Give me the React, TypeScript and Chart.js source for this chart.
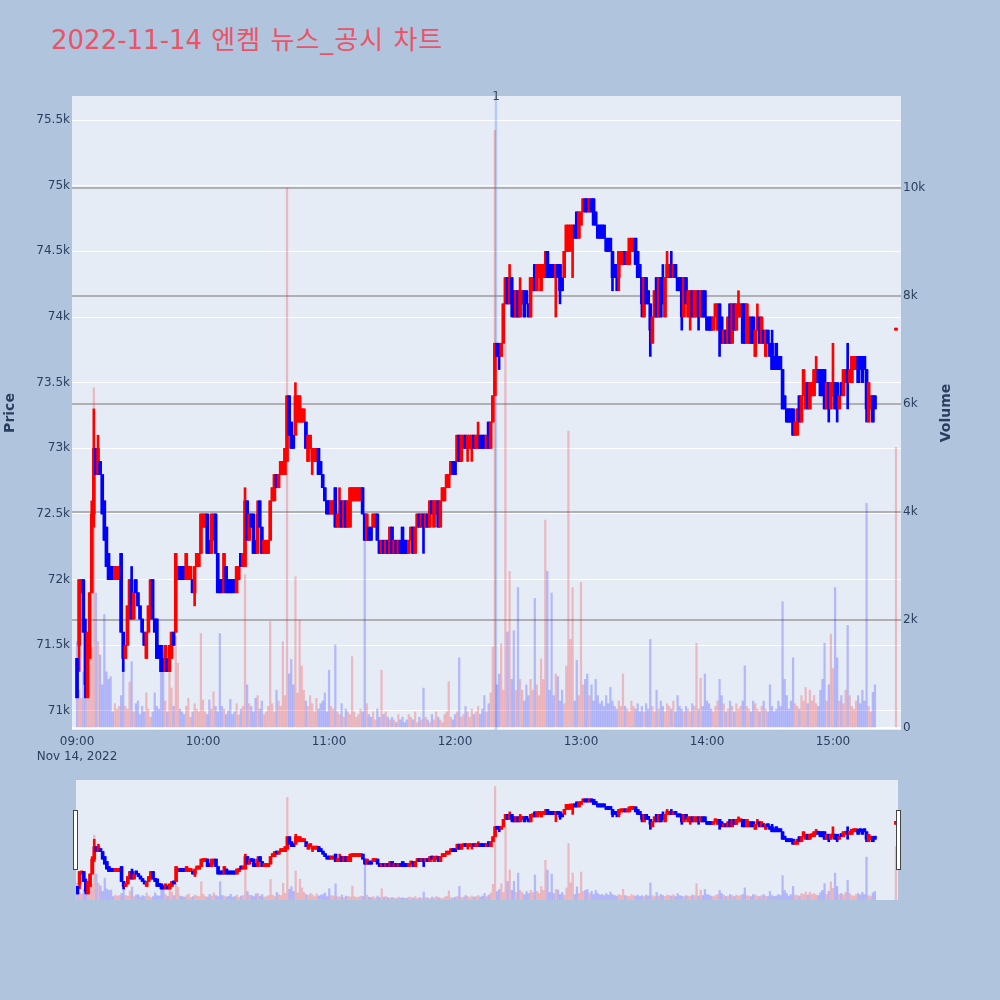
import { useEffect, useRef } from 'react';
import { Chart, registerables } from 'chart.js';

Chart.register(...registerables);

// 엔켐 1-minute candles on 2022-11-14, one entry per minute from 09:00.
// Prices are in units of 100 won.
const PRICE_UNIT = 100;

const opensH = [
  714, 715, 719, 720, 716, 711, 714, 719, 725, 730,
  728, 729, 728, 726, 724, 722, 721, 721, 720, 720,
  720, 722, 716, 714, 715, 717, 720, 717, 720, 719,
  718, 717, 716, 714, 716, 717, 720, 717, 717, 715,
  715, 714, 713, 714, 713, 714, 716, 716, 720, 721,
  721, 721, 720, 720, 720, 720, 719, 721, 721, 722,
  724, 724, 725, 723, 722, 723, 725, 722, 720, 720,
  719, 721, 720, 720, 720, 720, 719, 720, 722, 721,
  721, 726, 723, 725, 725, 723, 722, 726, 724, 722,
  722, 722, 723, 726, 726, 728, 727, 728, 728, 728,
  729, 734, 732, 731, 731, 732, 732, 732, 732, 732,
  729, 730, 729, 729, 729, 730, 729, 728, 727, 726,
  726, 725, 725, 727, 724, 724, 726, 724, 726, 724,
  724, 726, 726, 726, 726, 726, 727, 725, 723, 724,
  724, 724, 724, 725, 723, 722, 723, 722, 723, 722,
  724, 722, 723, 722, 723, 724, 723, 723, 722, 723,
  724, 722, 724, 725, 724, 725, 724, 725, 724, 726,
  724, 725, 726, 724, 726, 726, 727, 727, 728, 729,
  729, 729, 731, 729, 730, 731, 730, 730, 730, 731,
  730, 730, 731, 731, 731, 730, 732, 730, 732, 734,
  738, 738, 737, 738, 741, 743, 741, 743, 742, 740,
  742, 740, 741, 742, 742, 741, 740, 742, 744, 742,
  743, 742, 743, 743, 745, 744, 744, 744, 743, 744,
  744, 743, 743, 745, 745, 746, 746, 747, 748, 746,
  747, 748, 749, 749, 748, 749, 749, 748, 747, 747,
  747, 747, 746, 746, 746, 745, 744, 744, 743, 744,
  744, 745, 744, 744, 745, 745, 746, 745, 744, 743,
  740, 743, 742, 741, 738, 740, 743, 740, 743, 743,
  740, 743, 743, 744, 743, 744, 743, 743, 743, 740,
  743, 740, 740, 742, 740, 740, 742, 740, 742, 742,
  740, 740, 740, 739, 740, 739, 741, 740, 738, 739,
  738, 741, 738, 741, 739, 740, 740, 741, 741, 738,
  738, 740, 740, 737, 739, 740, 738, 739, 737, 739,
  738, 738, 737, 738, 737, 737, 736, 734, 733, 733,
  733, 733, 731, 731, 734, 732, 734, 733, 735, 733,
  734, 734, 735, 736, 736, 736, 736, 733, 735, 733,
  734, 735, 735, 733, 735, 734, 735, 736, 735, 735,
  736, 736, 737, 737, 737, 737, 736, 732, 733, 734,
  734,
];

const closesH = [
  711, 720, 720, 716, 712, 716, 719, 725, 730, 728,
  730, 728, 725, 723, 721, 720, 720, 720, 721, 721,
  721, 716, 714, 715, 718, 720, 717, 719, 719, 718,
  717, 716, 715, 716, 718, 720, 717, 716, 714, 714,
  713, 713, 715, 713, 715, 716, 715, 722, 721, 720,
  720, 720, 722, 721, 721, 719, 721, 722, 722, 725,
  725, 725, 722, 722, 725, 725, 722, 719, 719, 719,
  722, 719, 719, 719, 719, 719, 721, 721, 721, 722,
  726, 723, 725, 724, 722, 722, 725, 724, 722, 723,
  723, 723, 726, 727, 728, 727, 728, 729, 729, 730,
  734, 731, 730, 730, 734, 734, 734, 733, 733, 730,
  731, 731, 730, 730, 730, 728, 728, 727, 726, 725,
  725, 726, 726, 724, 725, 725, 724, 726, 724, 726,
  727, 727, 727, 727, 727, 727, 725, 723, 725, 723,
  723, 725, 725, 723, 722, 723, 722, 723, 722, 724,
  722, 723, 722, 723, 722, 722, 722, 722, 723, 724,
  722, 724, 725, 724, 725, 724, 725, 724, 726, 725,
  726, 726, 724, 726, 727, 727, 728, 728, 729, 728,
  728, 731, 729, 731, 731, 730, 731, 731, 731, 730,
  731, 731, 730, 730, 730, 731, 730, 732, 734, 738,
  737, 737, 738, 741, 743, 741, 743, 741, 740, 742,
  740, 742, 742, 740, 741, 740, 743, 743, 742, 744,
  744, 744, 744, 744, 743, 743, 743, 743, 744, 743,
  742, 742, 745, 747, 747, 747, 747, 746, 746, 748,
  748, 749, 748, 748, 749, 748, 747, 747, 746, 746,
  746, 746, 745, 745, 745, 743, 743, 743, 745, 745,
  745, 744, 745, 746, 746, 746, 744, 743, 743, 741,
  743, 741, 741, 739, 740, 742, 740, 743, 740, 741,
  743, 744, 744, 743, 744, 743, 742, 742, 740, 743,
  741, 742, 742, 740, 742, 742, 740, 742, 740, 740,
  739, 739, 739, 740, 741, 741, 739, 738, 739, 738,
  740, 738, 741, 739, 741, 741, 741, 738, 738, 741,
  740, 738, 738, 739, 740, 738, 740, 738, 739, 738,
  737, 736, 736, 736, 736, 736, 733, 733, 732, 732,
  732, 731, 732, 733, 732, 734, 736, 735, 733, 735,
  735, 736, 736, 735, 734, 734, 733, 735, 733, 735,
  735, 733, 733, 734, 734, 736, 736, 735, 736, 737,
  737, 737, 735, 736, 735, 736, 733, 735, 734, 732,
  733,
];

// wick ends that reach past the candle body: [minute, price / 100]
const highWicks = [
  [4, 717], [7, 726], [8, 733], [10, 731], [26, 721], [80, 727], [86, 726],
  [104, 735], [125, 727], [191, 732], [206, 744], [211, 743], [223, 745],
  [279, 744], [281, 745], [283, 745], [315, 742], [324, 741], [331, 739],
  [352, 737], [360, 738], [367, 738],
];
const lowWicks = [
  [1, 713], [4, 711], [8, 724], [22, 713], [56, 718], [112, 728], [165, 722],
  [186, 729], [188, 729], [201, 736], [207, 740], [228, 740], [230, 741],
  [235, 745], [236, 743], [255, 742], [257, 742], [258, 742], [269, 740],
  [273, 737], [288, 739], [292, 739], [296, 739], [306, 737], [358, 732],
  [362, 732], [367, 733], [376, 732],
];

const volumes = [
  1600, 700, 550, 1040, 750, 600, 2000, 1500, 6300, 2500,
  1600, 1350, 800, 2100, 1040, 900, 950, 300, 450, 350,
  400, 600, 1540, 400, 350, 850, 1230, 300, 450, 500,
  250, 400, 300, 650, 350, 200, 300, 650, 400, 350,
  1500, 1400, 500, 300, 1230, 740, 400, 1700, 1200, 350,
  300, 250, 400, 550, 200, 300, 450, 350, 300, 1750,
  520, 300, 250, 520, 350, 670, 400, 300, 1750, 400,
  350, 250, 320, 530, 250, 300, 450, 240, 350, 400,
  2840, 800, 450, 400, 300, 550, 600, 350, 500, 250,
  300, 400, 1970, 450, 300, 700, 500, 400, 1600, 600,
  10000, 1000, 1270, 800, 2800, 650, 2000, 1150, 700, 500,
  400, 600, 450, 300, 550, 350, 450, 500, 650, 300,
  1070, 400, 350, 1540, 300, 250, 450, 200, 350, 300,
  250, 1320, 300, 200, 250, 350, 300, 3500, 450, 250,
  200, 300, 150, 350, 200, 1070, 250, 300, 200, 150,
  200, 150, 100, 250, 150, 200, 100, 150, 250, 200,
  150, 300, 100, 200, 150, 740, 200, 150, 100, 250,
  150, 300, 200, 150, 100, 250, 300, 860, 200, 150,
  250, 300, 1300, 200, 250, 400, 300, 200, 350, 250,
  300, 400, 250, 350, 600, 300, 450, 650, 1500, 11070,
  800, 1000, 1560, 700, 7100, 1780, 2900, 900, 1800, 700,
  2600, 900, 700, 500, 800, 600, 900, 700, 2400, 800,
  600, 1280, 900, 3850, 2900, 700, 2500, 600, 1000, 950,
  500, 700, 450, 1150, 5500, 1640, 2600, 500, 1250, 600,
  2700, 800, 900, 1000, 600, 800, 500, 900, 600, 450,
  500, 400, 600, 450, 750, 500, 400, 350, 500, 400,
  1000, 400, 350, 300, 500, 400, 350, 450, 300, 400,
  300, 450, 350, 1640, 400, 300, 700, 350, 500, 400,
  300, 450, 400, 350, 500, 300, 600, 400, 350, 300,
  400, 350, 300, 450, 400, 1570, 350, 920, 400, 1000,
  500, 450, 350, 300, 400, 500, 900, 600, 450, 300,
  350, 500, 400, 300, 450, 350, 400, 500, 1150, 400,
  350, 300, 500, 450, 350, 300, 400, 500, 350, 300,
  800, 400, 300, 350, 500, 400, 2340, 900, 600, 350,
  500, 1300, 450, 400, 350, 600, 500, 750, 450, 700,
  500, 600, 450, 400, 700, 900, 1570, 500, 800, 1740,
  1100, 2600, 1300, 500, 600, 450, 700, 1900, 600, 400,
  350, 500, 600, 450, 700, 500, 4160, 400, 300, 660,
  800,
];

// closing single-price auction at 15:30
const auctionMinute = 390;
const auctionPriceH = 739;
const auctionVolume = 5200;

const hourTicks = [0, 60, 120, 180, 240, 300, 360];
const hourLabels = ['09:00', '10:00', '11:00', '12:00', '13:00', '14:00', '15:00'];
const dateLabel = 'Nov 14, 2022';
const priceTicks = [71000, 71500, 72000, 72500, 73000, 73500, 74000, 74500, 75000, 75500];
const volumeTicks = [0, 2000, 4000, 6000, 8000, 10000];
const newsMinutes = [199.5];
const newsLabels = ['1'];

const TITLE_DATE = '2022-11-14';
const TITLE_REST = ' 엔켐 뉴스_공시 차트';
const FONT = '"DejaVu Sans", "Noto Sans CJK KR", sans-serif';
const INK = '#2a3f5f';
const RISE = '#ff0000';
const FALL = '#0000ff';
const RISE_VOL = 'rgba(255,0,0,0.22)';
const FALL_VOL = 'rgba(0,0,255,0.22)';

const xs = [...opensH.map((_, i) => i), auctionMinute];
const opens = [...opensH, auctionPriceH].map(p => p * PRICE_UNIT);
const closes = [...closesH, auctionPriceH].map(p => p * PRICE_UNIT);
const highs = opens.map((o, i) => Math.max(o, closes[i]));
const lows = opens.map((o, i) => Math.min(o, closes[i]));
highWicks.forEach(([m, p]) => { highs[m] = p * PRICE_UNIT; });
lowWicks.forEach(([m, p]) => { lows[m] = p * PRICE_UNIT; });
const vols = [...volumes, auctionVolume];
const rising = opens.map((o, i) => closes[i] >= o);

const PRICE_RANGE = { min: 70855, max: 75683 };
const VOL_RANGE = { min: -37, max: 11704 };

function candleSets(body: number, wick: number, vol: number, minBody: number): any[] {
  return [
    {
      label: 'Volume', yAxisID: 'y1', order: 3, grouped: false, barThickness: vol,
      data: xs.map((x, i) => ({ x, y: vols[i] })),
      backgroundColor: rising.map(r => (r ? RISE_VOL : FALL_VOL)),
    },
    {
      label: 'wick', yAxisID: 'y', order: 2, grouped: false, barThickness: wick, minBarLength: minBody,
      data: xs.map((x, i) => ({ x, y: [lows[i], highs[i]] })),
      backgroundColor: rising.map(r => (r ? RISE : FALL)),
    },
    {
      label: 'body', yAxisID: 'y', order: 1, grouped: false, barThickness: body, minBarLength: minBody,
      data: xs.map((x, i) => ({ x, y: [opens[i], closes[i]] })),
      backgroundColor: rising.map(r => (r ? RISE : FALL)),
    },
  ];
}

const plotBg = {
  id: 'plotBg',
  beforeDraw(chart: any) {
    const { ctx, chartArea: a } = chart;
    ctx.save();
    ctx.fillStyle = '#e5ecf6';
    ctx.fillRect(a.left, a.top, a.right - a.left, a.bottom - a.top);
    ctx.restore();
  },
};

const newsMarks = {
  id: 'newsMarks',
  beforeDatasetsDraw(chart: any) {
    const { ctx, chartArea: a, scales } = chart;
    ctx.save();
    newsMinutes.forEach((m, i) => {
      const px = scales.x.getPixelForValue(m);
      ctx.strokeStyle = 'rgba(90,140,230,0.35)';
      ctx.lineWidth = 2.5;
      ctx.beginPath(); ctx.moveTo(px, a.top); ctx.lineTo(px, a.bottom); ctx.stroke();
      ctx.fillStyle = '#3d4a5c';
      ctx.font = `12px ${FONT}`;
      ctx.textAlign = 'center'; ctx.textBaseline = 'middle';
      ctx.fillText(newsLabels[i], px, a.top + 1);
    });
    ctx.restore();
  },
};

const volumeTitle = {
  id: 'volumeTitle',
  afterDraw(chart: any) {
    const { ctx, chartArea: a } = chart;
    ctx.save();
    ctx.translate(946, (a.top + a.bottom) / 2);
    ctx.rotate(-Math.PI / 2);
    ctx.fillStyle = INK;
    ctx.font = `bold 14px ${FONT}`;
    ctx.textAlign = 'center'; ctx.textBaseline = 'middle';
    ctx.fillText('Volume', 0, 0);
    ctx.restore();
  },
};

export default function App() {
  const mainRef = useRef<HTMLCanvasElement>(null);
  const navRef = useRef<HTMLCanvasElement>(null);

  useEffect(() => {
    if (!mainRef.current || !navRef.current) return;
    Chart.defaults.font.family = FONT;
    const tickFont = { size: 12, family: FONT };

    const main = new Chart(mainRef.current, {
      type: 'bar',
      data: { datasets: candleSets(3, 2, 1.6, 2) },
      plugins: [plotBg, newsMarks, volumeTitle],
      options: {
        animation: false, responsive: true, maintainAspectRatio: false,
        layout: { padding: { top: 96, right: 0, left: 0, bottom: 0 } },
        plugins: { legend: { display: false }, tooltip: { enabled: false } },
        scales: {
          x: {
            type: 'linear', min: -2.4, max: 392.4, bounds: 'data', offset: false,
            grid: { display: false, drawTicks: false }, border: { display: false },
            afterBuildTicks: (s: any) => { s.ticks = hourTicks.map(v => ({ value: v })); },
            afterFit: (s: any) => { s.height = 45; },
            ticks: {
              autoSkip: false, maxRotation: 0, padding: 5, color: INK, font: tickFont,
              callback: (_v: any, i: number) => (i === 0 ? [hourLabels[0], dateLabel] : hourLabels[i]),
            },
          },
          y: {
            type: 'linear', position: 'left', ...PRICE_RANGE, bounds: 'data',
            grid: { color: '#ffffff', lineWidth: 1, drawTicks: false }, border: { display: false },
            afterBuildTicks: (s: any) => { s.ticks = priceTicks.map(v => ({ value: v })); },
            afterFit: (s: any) => { s.width = 72; },
            ticks: { padding: 2, color: INK, font: tickFont, callback: (v: any) => `${v / 1000}k` },
            title: { display: true, text: 'Price', color: INK, font: { size: 14, weight: 'bold', family: FONT }, padding: { top: 2, bottom: 0 } },
          },
          y1: {
            type: 'linear', position: 'right', ...VOL_RANGE, bounds: 'data',
            grid: {
              drawTicks: false,
              color: (c: any) => (c.tick && c.tick.value === 0 ? '#ffffff' : '#b0b0b2'),
              lineWidth: 2,
            },
            border: { display: false },
            afterBuildTicks: (s: any) => { s.ticks = volumeTicks.map(v => ({ value: v })); },
            afterFit: (s: any) => { s.width = 99; },
            ticks: { padding: 2, color: INK, font: tickFont, callback: (v: any) => (v === 0 ? '0' : `${v / 1000}k`) },
          },
        },
      } as any,
    });

    const nav = new Chart(navRef.current, {
      type: 'bar',
      data: { datasets: candleSets(3, 2, 1.6, 3) },
      options: {
        animation: false, responsive: true, maintainAspectRatio: false,
        layout: { padding: 0 },
        plugins: { legend: { display: false }, tooltip: { enabled: false } },
        scales: {
          x: { type: 'linear', min: -0.7, max: 391, offset: false, display: false },
          y: { type: 'linear', ...PRICE_RANGE, display: false },
          y1: { type: 'linear', ...VOL_RANGE, display: false },
        },
      } as any,
    });

    return () => { main.destroy(); nav.destroy(); };
  }, []);

  const handle = (left: number) => ({
    position: 'absolute' as const, left, top: 810, width: 3, height: 58,
    background: '#ffffff', border: '1px solid #444444',
  });

  return (
    <div style={{ position: 'fixed', left: 0, top: 0, width: 1000, height: 1000, background: '#b0c4de', overflow: 'hidden' }}>
      <div style={{ position: 'absolute', left: 51, top: 22, fontSize: 26, lineHeight: '36px', fontFamily: FONT, color: '#eb5368', whiteSpace: 'pre' }}>
        {TITLE_DATE}<span style={{ letterSpacing: 1 }}>{TITLE_REST}</span>
      </div>
      <div style={{ position: 'absolute', left: 0, top: 0, width: 1000, height: 775 }}>
        <canvas ref={mainRef} />
      </div>
      <div style={{ position: 'absolute', left: 76, top: 780, width: 822, height: 120, background: '#e5ecf6' }}>
        <canvas ref={navRef} />
      </div>
      <div style={handle(73)} />
      <div style={handle(896)} />
    </div>
  );
}
